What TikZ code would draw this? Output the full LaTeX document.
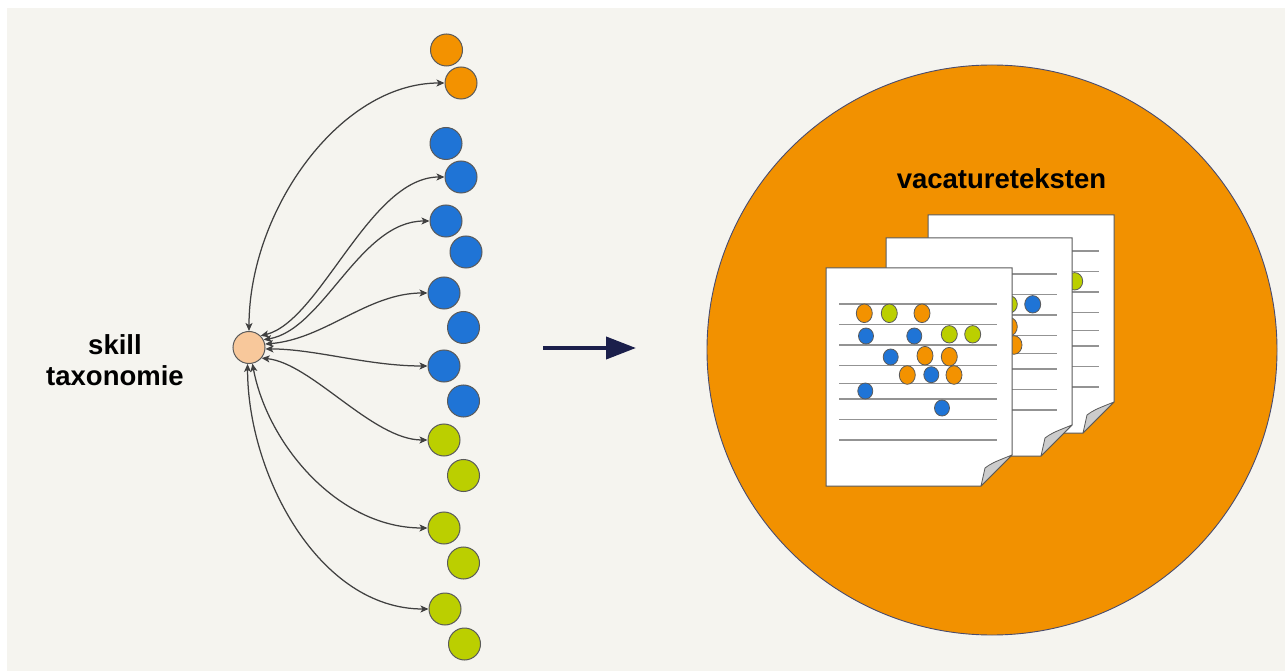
\documentclass[tikz,border=0pt]{standalone}
\usepackage{fontspec}
\setmainfont{Liberation Sans}
\usetikzlibrary{arrows.meta}

\definecolor{bg}{HTML}{F5F4EF}
\definecolor{skO}{HTML}{F39200}
\definecolor{skB}{HTML}{1F74D6}
\definecolor{skG}{HTML}{BBCF00}
\definecolor{skP}{HTML}{F8C89B}
\definecolor{pool}{HTML}{F29100}
\definecolor{edgegray}{HTML}{404040}
\definecolor{rimgray}{HTML}{5A5A5A}
\definecolor{navy}{HTML}{1B1F4B}

\tikzset{
  skill/.style={circle, minimum size=32pt, inner sep=0pt, draw=rimgray, line width=1pt},
  link/.style={draw=edgegray, line width=1.25pt, <->,
    >={Stealth[length=8pt,width=7pt,inset=2pt]}},
  labeltext/.style={font=\fontsize{27.5}{31}\selectfont\bfseries, text=black, align=center, inner sep=0pt},
  bigarrow/.style={draw=navy, line width=4pt, -{Triangle[length=30pt,width=22pt]}},
  pagebox/.style={fill=white, draw=rimgray, line width=1pt},
  pageline/.style={draw=gray!85, line width=1.6pt},
  flap/.style={fill=black!20, draw=rimgray, line width=0.8pt, line join=round},
  dotline/.style={draw=rimgray, line width=0.8pt}
}

% one text page: top-left corner (#1,#2), #3 = colour of the last dot of row two
\newcommand\docpage[3]{%
  \begin{scope}[shift={(#1,#2)}]
    \filldraw[pagebox] (0,0) -- (186,0) -- (186,187) -- (155,218) -- (0,218) -- cycle;
    \foreach \ly in {36,56.5,77,97.5,115.5,131,151.5,172}
      \draw[pageline] (13,\ly) -- (171,\ly);
    \filldraw[flap] (155,218) -- (159,200) .. controls (166,195) .. (186,187) -- cycle;
    \foreach \dx/\dy/\dc/\rx/\ry in {
        38.3/45.3/skO/8/9.3, 63.3/45.3/skG/8/9.3, 96/45.3/skO/8/9.3,
        40/68/skB/7.5/8, 88.3/68/skB/7.5/8, 123.3/66.3/skG/8/8.7, 146.7/66.3/#3/8/8.7,
        64.7/89/skB/7.5/8, 99/87.7/skO/8/9.3, 123.3/88.7/skO/8/9.3,
        81.3/107/skO/8/9.3, 105.3/106.7/skB/7.5/8, 128/107/skO/8/9.3,
        39.3/123/skB/7.5/8, 116/140/skB/7.5/8}
      \filldraw[dotline, fill=\dc] (\dx,\dy) ellipse [x radius=\rx, y radius=\ry];
  \end{scope}}

\begin{document}
\begin{tikzpicture}[x=1pt, y=-1pt]
  \useasboundingbox (0,0) rectangle (1286,671);
  \fill[white] (0,0) rectangle (1286,671);
  \fill[bg] (7,8) rectangle (1285,671);

  % taxonomy root and its label
  \node[skill, fill=skP] (tax) at (249,347.5) {};
  \node[labeltext] (taxlabel) at (115,360.5) {skill\\taxonomie};

  % skill column
  \node[skill, fill=skO] (s1)  at (446.5,50) {};
  \node[skill, fill=skO] (s2)  at (461,83) {};
  \node[skill, fill=skB] (s3)  at (446,143.5) {};
  \node[skill, fill=skB] (s4)  at (461,177) {};
  \node[skill, fill=skB] (s5)  at (446,221) {};
  \node[skill, fill=skB] (s6)  at (466,252) {};
  \node[skill, fill=skB] (s7)  at (444,293) {};
  \node[skill, fill=skB] (s8)  at (463.5,327.5) {};
  \node[skill, fill=skB] (s9)  at (444,366) {};
  \node[skill, fill=skB] (s10) at (463.5,401) {};
  \node[skill, fill=skG] (s11) at (444,440) {};
  \node[skill, fill=skG] (s12) at (463.5,475.5) {};
  \node[skill, fill=skG] (s13) at (444,528) {};
  \node[skill, fill=skG] (s14) at (463.5,563) {};
  \node[skill, fill=skG] (s15) at (445,609) {};
  \node[skill, fill=skG] (s16) at (464.5,644) {};

  % links between the root and the skills
  \draw[link] (tax.north) .. controls +(0,-120) and +(-105,0) .. (s2.west);
  \draw[link] (tax.45)    .. controls +(60,-15) and +(-75,0) .. (s4.west);
  \draw[link] (tax.28)    .. controls +(60,-10) and +(-70,0) .. (s5.west);
  \draw[link] (tax.12)    .. controls +(60,-5) and +(-60,0) .. (s7.west);
  \draw[link] (tax.-5)    .. controls +(50,0) and +(-60,0) .. (s9.west);
  \draw[link] (tax.-40)   .. controls +(50,5) and +(-55,0) .. (s11.west);
  \draw[link] (tax.-78)   .. controls +(15,80) and +(-90,0) .. (s13.west);
  \draw[link] (tax.-95)   .. controls +(0,110) and +(-110,0) .. (s15.west);

  % transition arrow
  \coordinate (a1) at (543,348);
  \coordinate (a2) at (636,348);
  \draw[bigarrow] (a1) -- (a2);

  % pool of vacancy texts
  \node[circle, minimum size=570pt, inner sep=0pt, fill=pool, draw=navy!80, line width=0.9pt] (pool) at (992,350) {};
  \node[labeltext, anchor=base] (vt) at (1001.5,189) {vacatureteksten};
  \docpage{928}{215}{skG}
  \docpage{886}{238}{skB}
  \docpage{826}{268}{skG}
\end{tikzpicture}
\end{document}
